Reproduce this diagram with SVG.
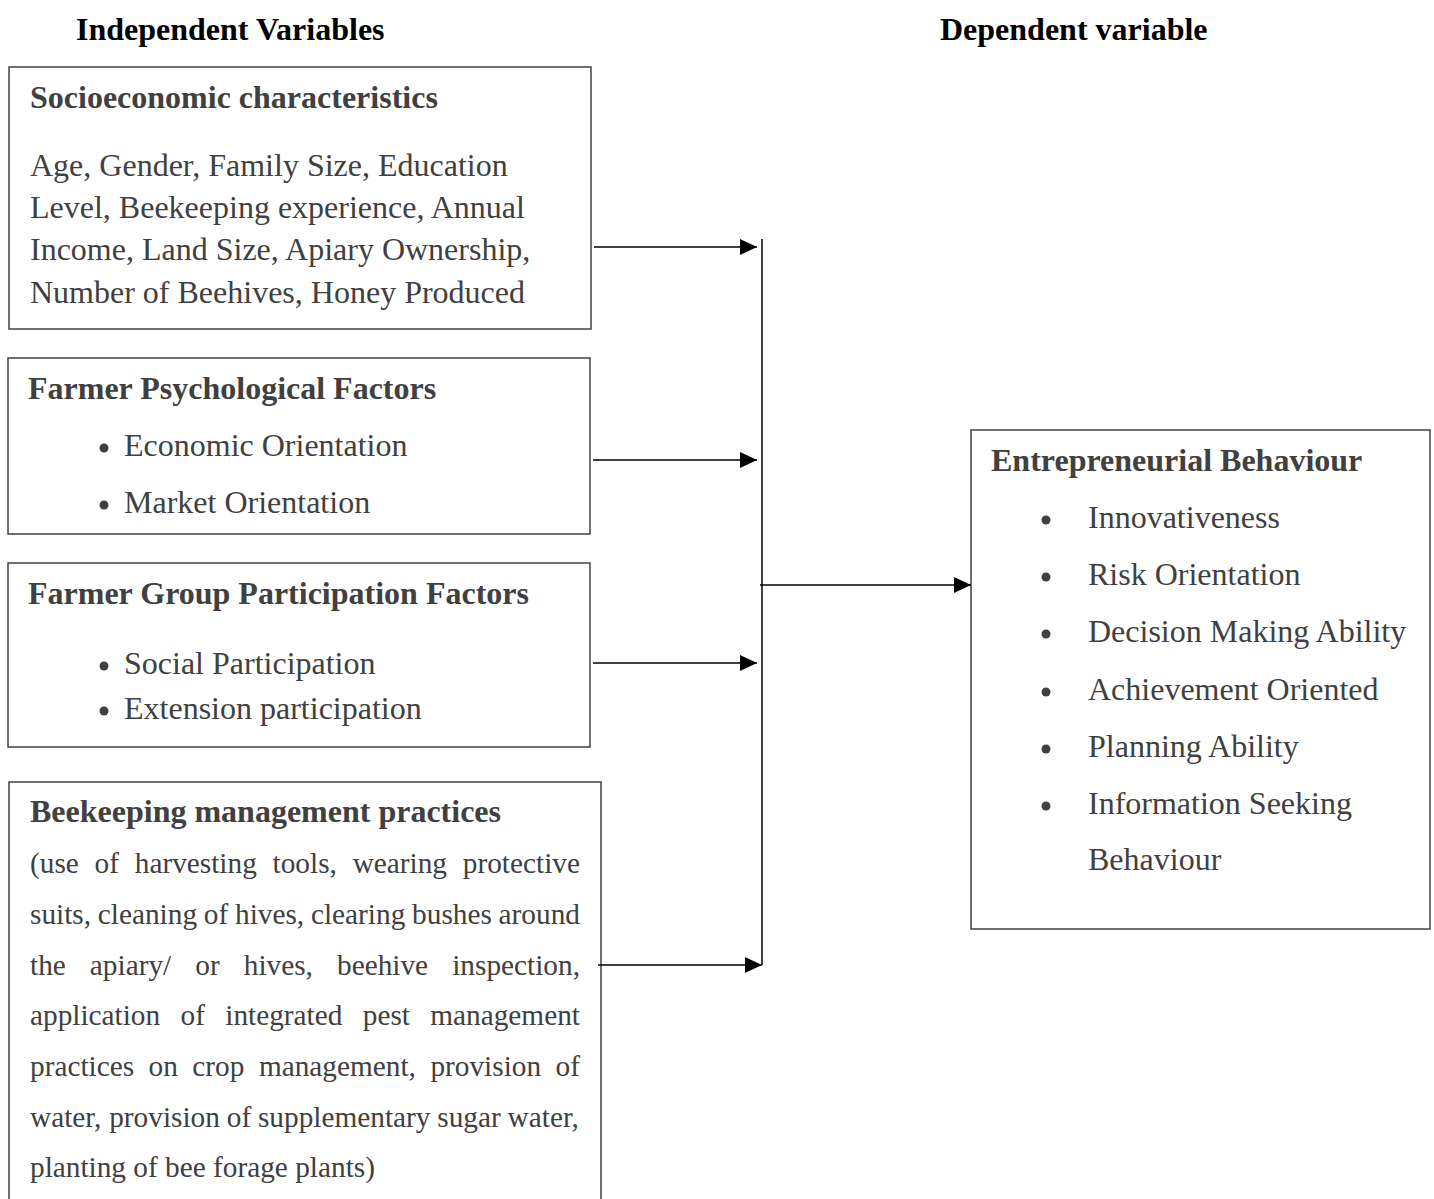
<svg xmlns="http://www.w3.org/2000/svg" width="1434" height="1199" viewBox="0 0 1434 1199">
<style>
.box{fill:#fff;stroke:#404040;stroke-width:1.5}
.t{font-family:"Liberation Serif","Times New Roman",serif;fill:#404040;font-size:32px}
.b{font-weight:bold}
.s{font-size:29.3px}
.h{font-family:"Liberation Serif","Times New Roman",serif;fill:#000;font-size:32px;font-weight:bold}
.bul{fill:#404040}
.c{stroke:#000;stroke-width:1.5;fill:none}
</style>
<defs>
<marker id="ah" markerUnits="userSpaceOnUse" markerWidth="18" markerHeight="17" refX="17" refY="8" orient="auto">
<path d="M0,0 L17,8 L0,16 z" fill="#000"/>
</marker>
</defs>
<rect width="1434" height="1199" fill="#fff"/>
<text class="h" x="76" y="40">Independent Variables</text>
<text class="h" x="940" y="40">Dependent variable</text>

<g id="socioeconomic">
<rect class="box" x="9" y="67" width="582" height="262"/>
<text class="t b" x="30" y="108">Socioeconomic characteristics</text>
<text class="t" x="30" y="176">Age, Gender, Family Size, Education</text>
<text class="t" x="30" y="218">Level, Beekeeping experience, Annual</text>
<text class="t" x="30" y="260">Income, Land Size, Apiary Ownership,</text>
<text class="t" x="30" y="303">Number of Beehives, Honey Produced</text>
</g>

<g id="psychological">
<rect class="box" x="8" y="358" width="582" height="176"/>
<text class="t b" x="28" y="399">Farmer Psychological Factors</text>
<circle class="bul" cx="104" cy="448" r="4.5"/>
<text class="t" x="124" y="456">Economic Orientation</text>
<circle class="bul" cx="104" cy="505" r="4.5"/>
<text class="t" x="124" y="513">Market Orientation</text>
</g>

<g id="group-participation">
<rect class="box" x="8" y="563" width="582" height="184"/>
<text class="t b" x="28" y="604">Farmer Group Participation Factors</text>
<circle class="bul" cx="104" cy="666" r="4.5"/>
<text class="t" x="124" y="674">Social Participation</text>
<circle class="bul" cx="104" cy="711" r="4.5"/>
<text class="t" x="124" y="719">Extension participation</text>
</g>

<g id="management">
<rect class="box" x="9" y="782" width="592" height="430"/>
<text class="t b" x="30" y="822">Beekeeping management practices</text>
<text class="t s" y="873"><tspan x="30">(use</tspan><tspan x="94.58">of</tspan><tspan x="134.76">harvesting</tspan><tspan x="272.59">tools,</tspan><tspan x="352.67">wearing</tspan><tspan x="462.82">protective</tspan></text>
<text class="t s" y="924"><tspan x="30">suits,</tspan><tspan x="97.82">cleaning</tspan><tspan x="203.85">of</tspan><tspan x="235.02">hives,</tspan><tspan x="310.96">clearing</tspan><tspan x="412.1">bushes</tspan><tspan x="498.61">around</tspan></text>
<text class="t s" y="975"><tspan x="30">the</tspan><tspan x="89.87">apiary/</tspan><tspan x="195.31">or</tspan><tspan x="243.79">hives,</tspan><tspan x="337.04">beehive</tspan><tspan x="452.23">inspection,</tspan></text>
<text class="t s" y="1025"><tspan x="30">application</tspan><tspan x="180.53">of</tspan><tspan x="225.26">integrated</tspan><tspan x="362.75">pest</tspan><tspan x="430.27">management</tspan></text>
<text class="t s" y="1076"><tspan x="30">practices</tspan><tspan x="148.6">on</tspan><tspan x="192.37">crop</tspan><tspan x="258.91">management,</tspan><tspan x="430.43">provision</tspan><tspan x="555.6">of</tspan></text>
<text class="t s" y="1127"><tspan x="30">water,</tspan><tspan x="109.22">provision</tspan><tspan x="226.74">of</tspan><tspan x="257.97">supplementary</tspan><tspan x="437.31">sugar</tspan><tspan x="507.59">water,</tspan></text>
<text class="t s" x="30" y="1177">planting of bee forage plants)</text>
</g>

<g id="entrepreneurial">
<rect class="box" x="971" y="430" width="459" height="499"/>
<text class="t b" x="991" y="471">Entrepreneurial Behaviour</text>
<circle class="bul" cx="1046" cy="520" r="4.5"/>
<text class="t" x="1088" y="528">Innovativeness</text>
<circle class="bul" cx="1046" cy="577" r="4.5"/>
<text class="t" x="1088" y="585">Risk Orientation</text>
<circle class="bul" cx="1046" cy="634" r="4.5"/>
<text class="t" x="1088" y="642">Decision Making Ability</text>
<circle class="bul" cx="1046" cy="692" r="4.5"/>
<text class="t" x="1088" y="700">Achievement Oriented</text>
<circle class="bul" cx="1046" cy="749" r="4.5"/>
<text class="t" x="1088" y="757">Planning Ability</text>
<circle class="bul" cx="1046" cy="806" r="4.5"/>
<text class="t" x="1088" y="814">Information Seeking</text>
<text class="t" x="1088" y="870">Behaviour</text>
</g>

<g id="connectors">
<line class="c" x1="762" y1="239" x2="762" y2="965"/>
<line class="c" x1="594" y1="247" x2="757" y2="247" marker-end="url(#ah)"/>
<line class="c" x1="593" y1="460" x2="757" y2="460" marker-end="url(#ah)"/>
<line class="c" x1="593" y1="663" x2="757" y2="663" marker-end="url(#ah)"/>
<line class="c" x1="598" y1="965" x2="762" y2="965" marker-end="url(#ah)"/>
<line class="c" x1="760" y1="585" x2="971" y2="585" marker-end="url(#ah)"/>
</g>
</svg>
